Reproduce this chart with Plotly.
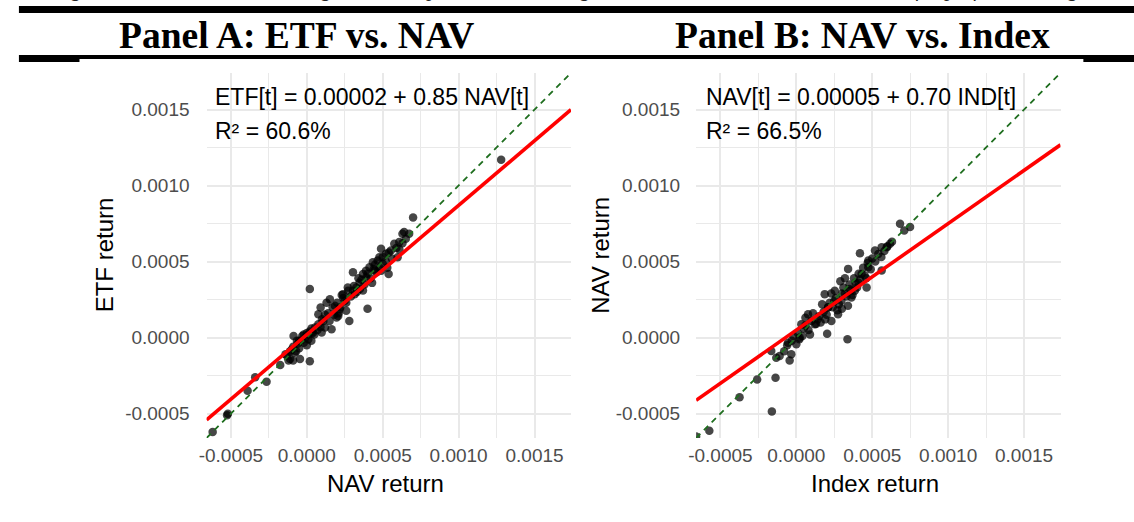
import plotly.graph_objects as go

# ---------------- data ----------------
# Panel A: NAV return (x) vs ETF return (y)
nav_a = [-6.2e-4, -5.2e-4, -5.25e-4, -3.9e-4, -3.4e-4, -2.65e-4, -1.75e-4, -1.1e-4, -1.0e-4, -0.9e-4,
         -0.45e-4, 0.2e-4, 12.8e-4, 7.0e-4, 0.2e-4, 4.0e-4, 2.8e-4,
         -0.87e-4, -0.65e-4, -0.2e-4, 0.1e-4, 0.33e-4, 0.54e-4, 0.76e-4, 0.98e-4, 1.2e-4, 1.09e-4,
         0.76e-4, 0.91e-4, 1.3e-4, 1.52e-4, 1.63e-4, 1.96e-4, 2.07e-4, 2.17e-4, 1.85e-4, 2.39e-4,
         2.5e-4, 2.72e-4, 2.6e-4, 3.04e-4, 3.15e-4, 3.26e-4, 3.48e-4, 3.04e-4, 3.7e-4, 3.91e-4,
         4.13e-4, 4.35e-4, 4.46e-4, 4.67e-4, 4.78e-4, 4.89e-4, 5.0e-4, 5.22e-4, 5.39e-4, 5.54e-4,
         5.76e-4, 5.98e-4, 6.09e-4, 6.3e-4, 6.41e-4, 6.74e-4, 6.52e-4,
         0.5e-4, 0.7e-4, 1.0e-4, 1.4e-4, 1.5e-4, 1.8e-4, 2.0e-4, 2.2e-4, 2.4e-4, 2.6e-4, 2.9e-4,
         3.1e-4, 3.3e-4, 3.5e-4, 3.6e-4, 3.8e-4, 4.0e-4, 4.2e-4, 4.4e-4, 4.6e-4, 4.8e-4, 5.0e-4,
         5.2e-4, 5.4e-4, 5.6e-4, 5.9e-4, 6.1e-4, 6.3e-4, 4.5e-4, 3.9e-4, 3.4e-4, 2.7e-4, 2.3e-4,
         1.7e-4, 1.2e-4, 0.9e-4, 0.3e-4, 0.0e-4, -0.2e-4, -0.5e-4, -1.2e-4, -1.4e-4, -0.7e-4,
         4.3e-4, 3.7e-4, 2.1e-4, 5.3e-4, 4.9e-4, -1.3e-4, -1.1e-4, -0.9e-4, -0.8e-4, -0.6e-4,
         -0.5e-4, -0.4e-4, -0.3e-4, -0.1e-4, 0.0e-4, 0.1e-4, 0.2e-4, 0.3e-4, 0.4e-4]
etf_a = [-6.2e-4, -5.0e-4, -5.1e-4, -3.5e-4, -2.6e-4, -2.9e-4, -1.8e-4, -1.4e-4, -0.8e-4, -1.5e-4,
         -1.4e-4, -1.55e-4, 11.7e-4, 7.9e-4, 3.2e-4, 1.9e-4, 1.1e-4,
         0.1e-4, -0.2e-4, -0.33e-4, -0.1e-4, 0.33e-4, 0.66e-4, 0.88e-4, 0.33e-4, 0.66e-4, 1.1e-4,
         1.54e-4, 1.98e-4, 2.3e-4, 2.53e-4, 0.55e-4, 1.32e-4, 1.43e-4, 1.87e-4, 2.09e-4, 2.86e-4,
         2.42e-4, 3.08e-4, 1.76e-4, 3.08e-4, 2.86e-4, 3.3e-4, 3.63e-4, 4.3e-4, 4.18e-4, 3.96e-4,
         4.63e-4, 4.96e-4, 4.41e-4, 5.07e-4, 5.29e-4, 5.84e-4, 4.85e-4, 5.51e-4, 4.19e-4, 5.73e-4,
         6.17e-4, 5.29e-4, 6.28e-4, 6.83e-4, 6.94e-4, 6.83e-4, 6.5e-4,
         0.2e-4, 0.5e-4, 1.2e-4, 1.6e-4, 1.1e-4, 1.5e-4, 2.3e-4, 2.0e-4, 2.6e-4, 2.3e-4, 2.7e-4,
         3.4e-4, 3.0e-4, 3.2e-4, 3.8e-4, 3.5e-4, 4.2e-4, 3.9e-4, 4.5e-4, 4.3e-4, 4.6e-4, 5.3e-4,
         5.0e-4, 5.6e-4, 5.2e-4, 5.9e-4, 5.8e-4, 6.2e-4, 4.8e-4, 4.4e-4, 3.9e-4, 3.3e-4, 2.8e-4,
         2.0e-4, 1.5e-4, 0.7e-4, 0.6e-4, 0.3e-4, 0.2e-4, -0.2e-4, -1.5e-4, -1.1e-4, -0.9e-4,
         3.6e-4, 3.1e-4, 1.6e-4, 4.6e-4, 4.4e-4, -1.2e-4, -0.9e-4, -0.6e-4, -1.0e-4, -0.4e-4,
         -0.7e-4, -0.2e-4, 0.1e-4, 0.0e-4, -0.5e-4, 0.2e-4, 0.4e-4, -0.2e-4, 0.3e-4]

# Panel B: Index return (x) vs NAV return (y)
ind_b = [-6.6e-4, -5.73e-4, -3.74e-4, -2.58e-4, -1.61e-4, -1.37e-4, -1.65e-4, -1.32e-4, -1.1e-4, -0.44e-4,
         -0.33e-4, -0.55e-4, 0.0e-4, 0.22e-4, 0.33e-4, 0.77e-4, 1.21e-4, 2.03e-4, 3.37e-4, 1.87e-4,
         2.53e-4, 3.41e-4, 4.19e-4, 4.74e-4, 5.62e-4, 6.17e-4, 6.83e-4, 7.11e-4, 7.49e-4, 2.09e-4,
         2.31e-4, 2.75e-4, 2.97e-4, 3.63e-4, 3.85e-4, 4.63e-4, 4.3e-4, 4.74e-4, 5.18e-4, 5.62e-4,
         5.95e-4,
         -0.3e-4, 0.1e-4, 0.4e-4, 0.5e-4, 0.8e-4, 1.0e-4, 1.3e-4, 1.5e-4, 1.6e-4, 1.8e-4,
         2.0e-4, 2.2e-4, 2.4e-4, 2.6e-4, 2.8e-4, 3.0e-4, 3.1e-4, 3.3e-4, 3.5e-4, 3.6e-4,
         3.8e-4, 3.9e-4, 4.1e-4, 4.2e-4, 4.4e-4, 4.5e-4, 4.7e-4, 4.9e-4, 5.0e-4, 5.2e-4,
         5.4e-4, 5.6e-4, 5.8e-4, 6.0e-4, 6.3e-4, 2.9e-4, 3.2e-4, 2.3e-4, 1.7e-4, 1.1e-4,
         0.6e-4, -0.2e-4, -0.6e-4, -0.8e-4, 3.4e-4, 2.7e-4, 3.7e-4, 4.0e-4, 4.6e-4, 3.0e-4,
         1.9e-4, 0.9e-4, 0.2e-4, 0.6e-4, 1.4e-4, 2.5e-4, 3.2e-4, 3.5e-4, 4.1e-4, 2.1e-4]
nav_b = [-6.5e-4, -6.12e-4, -3.92e-4, -2.75e-4, -4.85e-4, -2.64e-4, -0.88e-4, -1.32e-4, -1.21e-4, -1.5e-4,
         -1.1e-4, -0.33e-4, -0.44e-4, 0.0e-4, 0.88e-4, 1.54e-4, 0.88e-4, 0.26e-4, -0.11e-4, 2.86e-4,
         3.08e-4, 4.52e-4, 5.55e-4, 5.07e-4, 4.41e-4, 6.17e-4, 7.49e-4, 7.05e-4, 7.27e-4, 1.98e-4,
         1.1e-4, 1.54e-4, 2.42e-4, 2.64e-4, 3.08e-4, 3.3e-4, 4.19e-4, 4.63e-4, 5.73e-4, 5.95e-4,
         5.95e-4,
         -0.2e-4, 0.3e-4, 0.1e-4, 0.6e-4, 0.5e-4, 1.1e-4, 0.9e-4, 1.4e-4, 1.0e-4, 1.7e-4,
         1.5e-4, 2.3e-4, 2.0e-4, 2.6e-4, 2.2e-4, 2.9e-4, 3.3e-4, 2.7e-4, 3.5e-4, 3.1e-4,
         3.9e-4, 3.6e-4, 4.2e-4, 3.8e-4, 4.6e-4, 4.1e-4, 4.9e-4, 4.5e-4, 5.2e-4, 5.0e-4,
         5.5e-4, 5.3e-4, 5.7e-4, 6.0e-4, 6.3e-4, 3.7e-4, 3.9e-4, 2.9e-4, 2.2e-4, 1.6e-4,
         1.3e-4, 0.1e-4, -0.5e-4, -0.9e-4, 2.1e-4, 1.8e-4, 2.8e-4, 3.3e-4, 3.9e-4, 1.9e-4,
         1.2e-4, 0.2e-4, -0.1e-4, 0.8e-4, 1.2e-4, 2.4e-4, 2.9e-4, 3.2e-4, 3.6e-4, 2.0e-4]

# regression fits (intercept, slope) and R^2 labels
fit_a = (0.00002, 0.85)
fit_b = (0.00005, 0.70)
eq_a = ["ETF[t] = 0.00002 + 0.85 NAV[t]", "R² = 60.6%"]
eq_b = ["NAV[t] = 0.00005 + 0.70 IND[t]", "R² = 66.5%"]

axis_range = [-0.00066, 0.00174]
tick_vals = [-0.0005, 0.0, 0.0005, 0.0010, 0.0015]
tick_text = ["-0.0005", "0.0000", "0.0005", "0.0010", "0.0015"]
panel_titles = ["Panel A: ETF vs. NAV", "Panel B: NAV vs. Index"]
x_titles = ["NAV return", "Index return"]
y_titles = ["ETF return", "NAV return"]
caption = "regression line, and the dashed green line represents the 45-degree line, which serves as a benchmark for perfect tracking."

# ---------------- layout helpers ----------------
W, H = 1134, 522
def px(x):
    return x / W
def py(y):
    return 1 - y / H

SANS = "Liberation Sans, Arial, Helvetica, sans-serif"
SERIF = "Liberation Serif, Times New Roman, serif"
GRID = "#e9e9e9"

fig = go.Figure()

panels = [
    dict(x=nav_a, y=etf_a, fit=fit_a, xa="x", ya="y"),
    dict(x=ind_b, y=nav_b, fit=fit_b, xa="x2", ya="y2"),
]
for p in panels:
    fig.add_trace(go.Scatter(
        x=p["x"], y=p["y"], mode="markers", xaxis=p["xa"], yaxis=p["ya"],
        marker=dict(size=8.5, color="rgba(0,0,0,0.72)", line=dict(width=0)),
        showlegend=False, hoverinfo="skip"))
    fig.add_trace(go.Scatter(
        x=axis_range, y=axis_range, mode="lines", xaxis=p["xa"], yaxis=p["ya"],
        line=dict(color="#1f6e1f", width=1.8, dash="6px,5px"),
        showlegend=False, hoverinfo="skip"))
    a, b = p["fit"]
    fig.add_trace(go.Scatter(
        x=axis_range, y=[a + b * v for v in axis_range], mode="lines",
        xaxis=p["xa"], yaxis=p["ya"],
        line=dict(color="#ff0000", width=3.6),
        showlegend=False, hoverinfo="skip"))

ax_common = dict(
    range=axis_range, tickvals=tick_vals, ticktext=tick_text,
    showgrid=True, gridcolor=GRID, gridwidth=1.8,
    minor=dict(showgrid=True, gridcolor=GRID, gridwidth=0.9, dtick=0.00025),
    zeroline=False, showline=False, ticks="",
    tickfont=dict(family=SANS, size=19, color="#4d4d4d"),
)
fig.update_layout(
    width=W, height=H, autosize=False,
    margin=dict(l=0, r=0, t=0, b=0),
    paper_bgcolor="white", plot_bgcolor="white",
    xaxis=dict(domain=[px(200), px(567)], anchor="y", ticklabelstandoff=4, **ax_common),
    yaxis=dict(domain=[py(438), py(73)], anchor="x", ticklabelstandoff=16, **ax_common),
    xaxis2=dict(domain=[px(693), px(1060)], anchor="y2", ticklabelstandoff=4, **ax_common),
    yaxis2=dict(domain=[py(438), py(73)], anchor="x2", ticklabelstandoff=15, **ax_common),
)

annotations = []
# caption fragment at the very top (cut off)
annotations.append(dict(text="<i>" + caption + "</i>", xref="paper", yref="paper", x=px(1086), y=py(3.5),
                        xanchor="right", yanchor="bottom", showarrow=False,
                        font=dict(family=SERIF, size=21, color="#222"), ))
# panel titles
for t, cx in zip(panel_titles, [291, 861]):
    annotations.append(dict(text="<b>" + t + "</b>", xref="paper", yref="paper",
                            x=px(cx), y=py(35), xanchor="center", yanchor="middle",
                            showarrow=False, font=dict(family=SERIF, size=37.5, color="black")))
# equations
for eq, lx in zip([eq_a, eq_b], [206, 701]):
    for line, cy in zip(eq, [97, 131]):
        annotations.append(dict(text=line, xref="paper", yref="paper", x=px(lx), y=py(cy),
                                xanchor="left", yanchor="middle", showarrow=False,
                                font=dict(family=SANS, size=23, color="black")))
# axis titles
for t, cx in zip(x_titles, [380, 873]):
    annotations.append(dict(text=t, xref="paper", yref="paper", x=px(cx), y=py(483),
                            xanchor="center", yanchor="middle", showarrow=False,
                            font=dict(family=SANS, size=24, color="black")))
for t, cx in zip(y_titles, [97, 596]):
    annotations.append(dict(text=t, xref="paper", yref="paper", x=px(cx), y=py(255),
                            xanchor="center", yanchor="middle", textangle=-90, showarrow=False,
                            font=dict(family=SANS, size=24, color="black")))
fig.update_layout(annotations=annotations)

# horizontal rules
def rule(x0, x1, y0, y1):
    return dict(type="rect", xref="paper", yref="paper", x0=px(x0), x1=px(x1),
                y0=py(y1), y1=py(y0), fillcolor="black", line=dict(width=0), layer="above")
fig.update_layout(shapes=[
    rule(11, W, 6, 13),
    rule(11, W, 55, 59),
    rule(11, 72, 59, 62),
    rule(1083, W, 59, 62),
])

fig.write_html("out.html")
